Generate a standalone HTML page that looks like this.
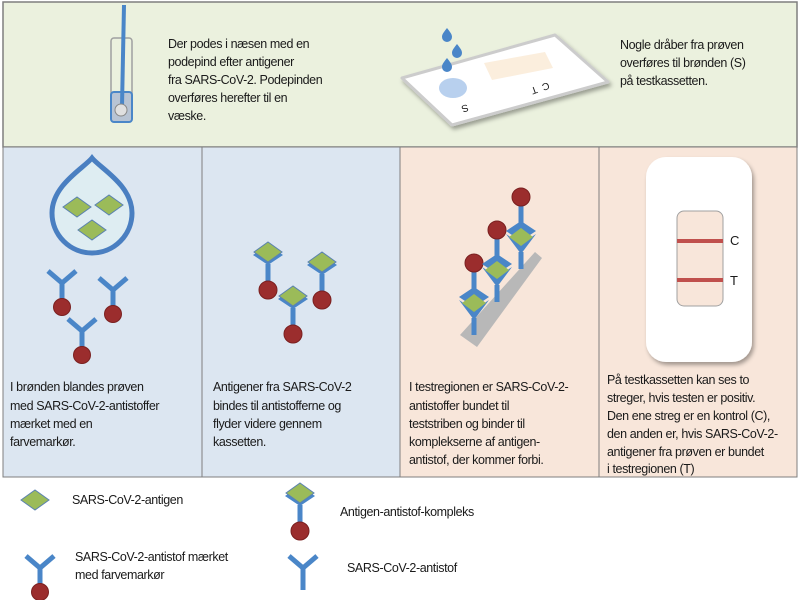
<!DOCTYPE html>
<html><head><meta charset="utf-8"><style>
body{margin:0;background:#fff}
svg{display:block}
text{font-family:"Liberation Sans",sans-serif;font-size:12.5px;fill:#1a1a1a;letter-spacing:-0.4px}
</style></head><body>
<svg width="800" height="600" viewBox="0 0 800 600">
<defs>
<filter id="sh" x="-20%" y="-20%" width="150%" height="150%"><feDropShadow dx="2" dy="3" stdDeviation="2" flood-color="#000" flood-opacity="0.35"/></filter>
<g id="ab"><path d="M-14,-12 L0,0 L14,-12" fill="none" stroke="#4a86c8" stroke-width="5"/><line x1="0" y1="0" x2="0" y2="22" stroke="#4a86c8" stroke-width="5"/></g>
<g id="abd"><use href="#ab"/><circle cx="0" cy="24" r="8.5" fill="#9b2d2d" stroke="#7a2020" stroke-width="1"/></g>
<g id="dia"><polygon points="-14,0 0,-10 14,0 0,10" fill="#9bbb59" stroke="#5b82b0" stroke-width="1"/></g>
<g id="cx"><polygon points="-15,3 0,-7 15,3 0,13" fill="#4a86c8"/><use href="#dia"/><line x1="0" y1="12" x2="0" y2="34" stroke="#4a86c8" stroke-width="5"/><circle cx="0" cy="38" r="9" fill="#9b2d2d" stroke="#7a2020"/></g>
<g id="cu"><polygon points="-15,-3 0,7 15,-3 0,17" fill="#4a86c8"/><polygon points="-15,-6 0,-16 15,-6 0,4" fill="#4a86c8"/><polygon points="-12,0 0,-9 12,0 0,9" fill="#9bbb59"/><line x1="0" y1="15" x2="0" y2="32" stroke="#4a86c8" stroke-width="5"/><line x1="0" y1="-14" x2="0" y2="-32" stroke="#4a86c8" stroke-width="5"/><circle cx="0" cy="-40" r="9" fill="#9b2d2d" stroke="#7a2020"/></g>
<path id="drp" d="M0,-6 C3,-2 5,0 5,3 A5,5 0 1 1 -5,3 C-5,0 -3,-2 0,-6Z" fill="#4a86c8"/>
</defs>
<rect x="3" y="2" width="794" height="145" fill="#ebf1de" stroke="#7f7f7f" stroke-width="1.5"/>
<rect x="3" y="147" width="199" height="330" fill="#dce6f1" stroke="#7f7f7f"/>
<rect x="202" y="147" width="198" height="330" fill="#dce6f1" stroke="#7f7f7f"/>
<rect x="400" y="147" width="199" height="330" fill="#f8e6da" stroke="#7f7f7f"/>
<rect x="599" y="147" width="198" height="330" fill="#f8e6da" stroke="#7f7f7f"/>
<rect x="111" y="38" width="21" height="84" rx="3" fill="none" stroke="#a0a0a0" stroke-width="1.5"/>
<rect x="111" y="92" width="21" height="30" rx="3" fill="#b8c4d4" stroke="#4a86c8" stroke-width="2"/>
<line x1="124" y1="5" x2="122" y2="106" stroke="#4a86c8" stroke-width="4"/>
<circle cx="121" cy="110" r="6" fill="#e0e0e0" stroke="#888"/>
<text x="168" y="48">Der podes i næsen med en</text>
<text x="168" y="66">podepind efter antigener</text>
<text x="168" y="84">fra SARS-CoV-2. Podepinden</text>
<text x="168" y="102">overføres herefter til en</text>
<text x="168" y="120">væske.</text>
<polygon points="402,78 555,35 608,82 452,125" fill="#fff" stroke="#ccc" stroke-width="3" stroke-linejoin="round" filter="url(#sh)"/>
<polygon points="484,63 545,52 553,68 492,80" fill="#fbeedd"/>
<ellipse cx="453" cy="88" rx="14" ry="10" fill="#b8d0ee"/>
<text x="467" y="104" transform="rotate(160 467 104)" style="font-size:10px">S</text>
<text x="536" y="86" transform="rotate(160 536 86)" style="font-size:10px">T</text>
<text x="548" y="82" transform="rotate(160 548 82)" style="font-size:10px">C</text>
<use href="#drp" x="447" y="34"/>
<use href="#drp" x="457" y="50"/>
<use href="#drp" x="447" y="64"/>
<text x="620" y="49">Nogle dråber fra prøven</text>
<text x="620" y="67">overføres til brønden (S)</text>
<text x="620" y="85">på testkassetten.</text>
<path d="M92,158 C100,168 132,185 132,213 A40,40 0 1 1 52,213 C52,185 84,168 92,158Z" fill="#deedf2" stroke="#4a7fc1" stroke-width="5"/>
<g transform="translate(77,207)"><use href="#dia"/></g>
<g transform="translate(109,205)"><use href="#dia"/></g>
<g transform="translate(92,230)"><use href="#dia"/></g>
<g transform="translate(62,283)"><use href="#abd"/></g>
<g transform="translate(113,290)"><use href="#abd"/></g>
<g transform="translate(82,331)"><use href="#abd"/></g>
<g transform="translate(268,252)"><use href="#cx"/></g>
<g transform="translate(322,262)"><use href="#cx"/></g>
<g transform="translate(293,296)"><use href="#cx"/></g>
<polygon points="460,335 477,347 542,258 535,252" fill="#b8b8b8"/>
<g transform="translate(474,303)"><use href="#cu"/></g>
<g transform="translate(497,270)"><use href="#cu"/></g>
<g transform="translate(521,237)"><use href="#cu"/></g>
<rect x="646" y="157" width="106" height="205" rx="20" fill="#fff" filter="url(#sh)"/>
<rect x="677" y="211" width="46" height="95" rx="7" fill="#f8e6da" stroke="#a0a0a0"/>
<line x1="677" y1="241" x2="723" y2="241" stroke="#c0504d" stroke-width="4"/>
<line x1="677" y1="280" x2="723" y2="280" stroke="#c0504d" stroke-width="4"/>
<text x="730" y="245" style="font-size:13px">C</text>
<text x="730" y="285" style="font-size:13px">T</text>
<text x="10" y="391">I brønden blandes prøven</text>
<text x="10" y="410">med SARS-CoV-2-antistoffer</text>
<text x="10" y="428">mærket med en</text>
<text x="10" y="446">farvemarkør.</text>
<text x="213" y="391">Antigener fra SARS-CoV-2</text>
<text x="213" y="410">bindes til antistofferne og</text>
<text x="213" y="428">flyder videre gennem</text>
<text x="213" y="446">kassetten.</text>
<text x="409" y="391">I testregionen er SARS-CoV-2-</text>
<text x="409" y="410">antistoffer bundet til</text>
<text x="409" y="428">teststriben og binder til</text>
<text x="409" y="446">komplekserne af antigen-</text>
<text x="409" y="464">antistof, der kommer forbi.</text>
<text x="607" y="384">På testkassetten kan ses to</text>
<text x="607" y="402">streger, hvis testen er positiv.</text>
<text x="607" y="420">Den ene streg er en kontrol (C),</text>
<text x="607" y="438">den anden er, hvis SARS-CoV-2-</text>
<text x="607" y="456">antigener fra prøven er bundet</text>
<text x="607" y="473">i testregionen (T)</text>
<g transform="translate(35,500)"><use href="#dia"/></g>
<text x="72" y="504">SARS-CoV-2-antigen</text>
<g transform="translate(300,493)"><use href="#cx"/></g>
<text x="340" y="516">Antigen-antistof-kompleks</text>
<g transform="translate(40,568)"><use href="#abd"/></g>
<text x="75" y="561">SARS-CoV-2-antistof mærket</text>
<text x="75" y="579">med farvemarkør</text>
<g transform="translate(303,568)"><use href="#ab"/></g>
<text x="347" y="572">SARS-CoV-2-antistof</text>
</svg>
</body></html>
